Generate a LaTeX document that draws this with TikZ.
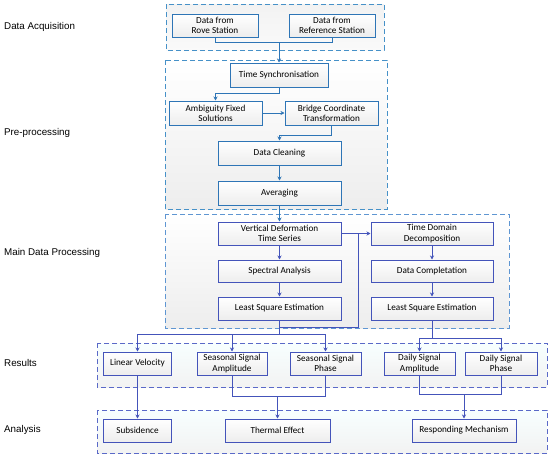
\documentclass[tikz,border=0pt]{standalone}
\usepackage{fontspec}
\setmainfont{Carlito}
\newfontfamily\lblfont{Liberation Sans}
\usetikzlibrary{arrows.meta}
\definecolor{topblue}{RGB}{46,117,182}
\definecolor{lowblue}{RGB}{68,84,186}
\definecolor{frameA}{RGB}{70,145,200}
\definecolor{frameB}{RGB}{95,150,210}
\definecolor{frameC}{RGB}{90,105,200}
\tikzset{
  box/.style={draw, line width=1pt, shading=axis, top color=white, bottom color=black!7,
    align=center, font=\fontsize{9.2}{10.2}\selectfont, inner sep=1pt, minimum height=23pt},
  boxT/.style={box, draw=topblue},
  boxL/.style={box, draw=lowblue},
  frame/.style={dashed, dash pattern=on 5pt off 3pt, line width=1pt},
  conT/.style={draw=topblue, line width=1pt},
  conL/.style={draw=lowblue, line width=1pt},
  arr/.style={-{Stealth[length=4pt,width=4pt]}},
  lbl/.style={anchor=west, font=\lblfont\fontsize{9.8}{11}\selectfont, inner sep=0pt}
}
\begin{document}
\begin{tikzpicture}[x=1pt,y=-1pt]
\useasboundingbox (0,0) rectangle (550,458);
% frames
\draw[frame, draw=frameA, shading=axis, top color=black!5, bottom color=white!98!black] (166,4) rectangle (384,50);
\draw[frame, draw=frameA, shading=axis, top color=white, bottom color=black!7] (165,60) rectangle (387,209);
\draw[frame, draw=frameB, shading=axis, top color=white, bottom color=black!7] (165,214) rectangle (509,328);
\draw[frame, draw=frameC, shading=axis, top color=cyan!3, bottom color=black!5] (97,343) rectangle (547,387);
\draw[frame, draw=frameC, shading=axis, top color=cyan!3, bottom color=black!5] (97,410) rectangle (547,453);
% labels
\node[lbl] (l1) at (4,27) {Data Acquisition};
\node[lbl] (l2) at (4,133) {Pre-processing};
\node[lbl] (l3) at (4,253) {Main Data Processing};
\node[lbl] (l4) at (4,363) {Results};
\node[lbl] (l5) at (4,430) {Analysis};
% boxes top
\node[boxT, minimum width=86pt] (rove) at (215,25.5) {Data from\\Rove Station};
\node[boxT, minimum width=86pt] (ref) at (332,25.5) {Data from\\Reference Station};
\node[boxT, minimum width=98pt, minimum height=24pt] (sync) at (279,75) {Time Synchronisation};
\node[boxT, minimum width=93pt, minimum height=24pt] (amb) at (215.5,113) {Ambiguity Fixed\\Solutions};
\node[boxT, minimum width=93pt, minimum height=24pt] (bridge) at (331.5,113) {Bridge Coordinate\\Transformation};
\node[boxT, minimum width=123pt, minimum height=24pt] (clean) at (279.5,153) {Data Cleaning};
\node[boxT, minimum width=123pt, minimum height=24pt] (avg) at (279.5,193) {Averaging};
% main
\node[boxL, minimum width=123pt] (vdef) at (279.5,233.5) {Vertical Deformation\\Time Series};
\node[boxL, minimum width=123pt, minimum height=22pt] (spec) at (279.5,271) {Spectral Analysis};
\node[boxL, minimum width=123pt] (lseL) at (279.5,308.5) {Least Square Estimation};
\node[boxL, minimum width=122pt] (tdd) at (432,233.5) {Time Domain\\Decomposition};
\node[boxL, minimum width=122pt, minimum height=22pt] (dcomp) at (432,271) {Data Completation};
\node[boxL, minimum width=122pt] (lseR) at (432,308.5) {Least Square Estimation};
% results
\node[boxL, minimum width=68pt] (lv) at (137.5,363.5) {Linear Velocity};
\node[boxL, minimum width=70pt] (ssa) at (232,363.5) {Seasonal Signal\\Amplitude};
\node[boxL, minimum width=71pt] (ssp) at (325.5,363.5) {Seasonal Signal\\Phase};
\node[boxL, minimum width=71pt] (dsa) at (419.5,363.5) {Daily Signal\\Amplitude};
\node[boxL, minimum width=72pt] (dsp) at (501,363.5) {Daily Signal\\Phase};
% analysis
\node[boxL, minimum width=68pt] (sub) at (137.5,430.5) {Subsidence};
\node[boxL, minimum width=105pt] (therm) at (277.5,430.5) {Thermal Effect};
\node[boxL, minimum width=104pt] (resp) at (464,430.5) {Responding Mechanism};
% connectors top
\coordinate (j1) at (279,42);
\draw[conT] (rove.south) |- (j1);
\draw[conT] (ref.south) |- (j1);
\draw[conT, arr] (j1) -- (sync.north);
\draw[conT, arr] (sync.south) -- ++(0,6) -| (amb.north);
\draw[conT, arr] (amb.east) -- (bridge.west);
\draw[conT, arr] (bridge.south) -- ++(0,10) -| (clean.north);
\draw[conT, arr] (clean) -- (avg);
\draw[conT, arr] (avg) -- (vdef);
% main connectors
\draw[conL, arr] (vdef) -- (spec);
\draw[conL, arr] (spec) -- (lseL);
\draw[conL, arr] (tdd) -- (dcomp);
\draw[conL, arr] (dcomp) -- (lseR);
\draw[conL, arr] (vdef.east) -- (tdd.west);
\coordinate (br) at (358,233.5);
\coordinate (j2) at (279.5,327);
\draw[conL] (br) |- (j2);
\coordinate (j3) at (279.5,334);
\draw[conL] (lseL.south) -- (j3);
\draw[conL, arr] (j3) -| (lv.north);
\draw[conL, arr] (j3) -| (ssp.north);
\draw[conL, arr] (ssa.north |- j3) -- (ssa.north);
\coordinate (j4) at (432,338);
\draw[conL] (lseR.south) -- (j4);
\draw[conL, arr] (j4) -| (dsa.north);
\draw[conL, arr] (j4) -| (dsp.north);
% results to analysis
\draw[conL, arr] (lv) -- (sub);
\coordinate (j5) at (277.5,396);
\draw[conL] (ssa.south) |- (j5);
\draw[conL] (ssp.south) |- (j5);
\draw[conL, arr] (j5) -- (therm.north);
\coordinate (j6) at (464,394);
\draw[conL] (dsa.south) |- (j6);
\draw[conL] (dsp.south) |- (j6);
\draw[conL, arr] (j6) -- (resp.north);
\end{tikzpicture}
\end{document}
